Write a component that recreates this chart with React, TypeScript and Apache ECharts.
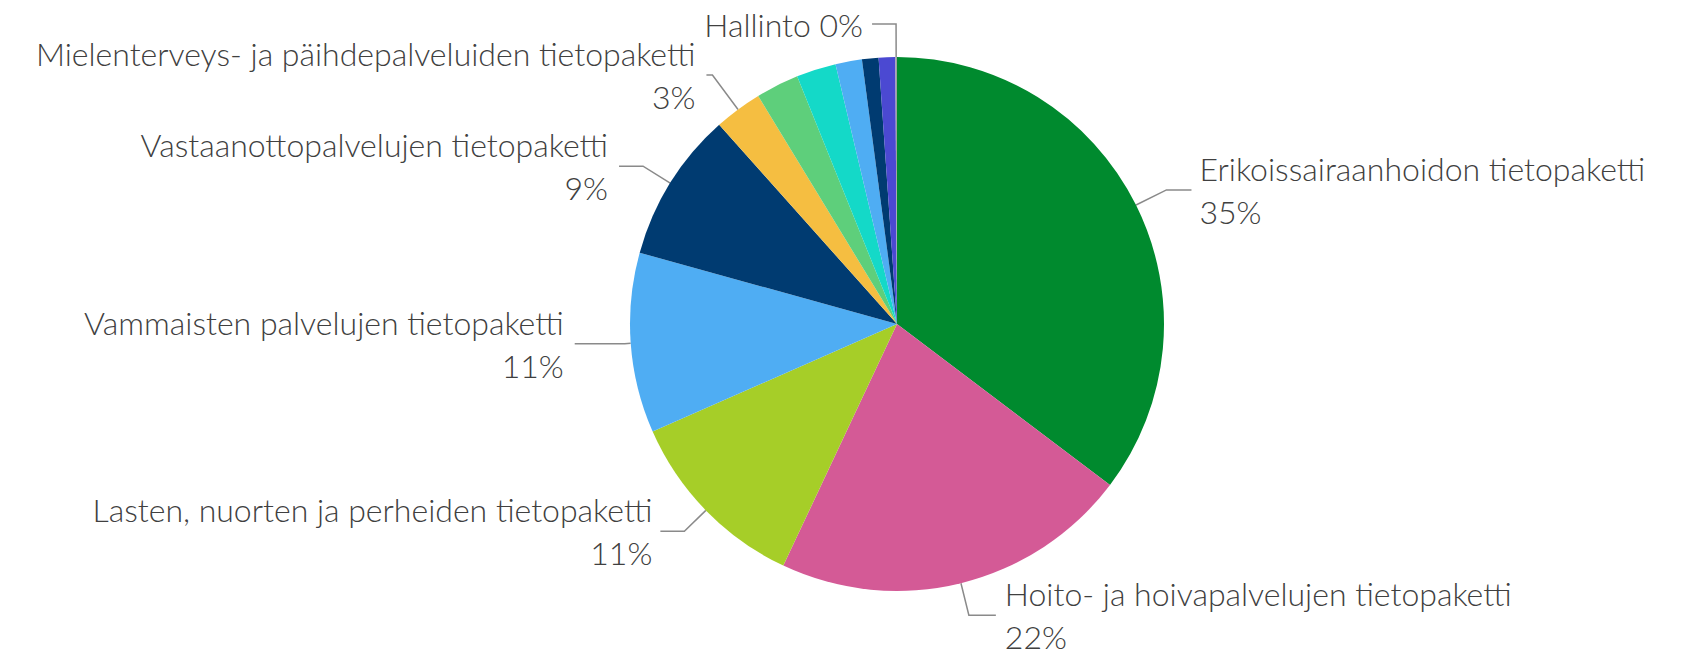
import React, { useEffect, useRef } from "react";
import * as echarts from "echarts";

// Categories (clockwise from 12 o'clock)
const categories = [
  "Erikoissairaanhoidon tietopaketti",
  "Hoito- ja hoivapalvelujen tietopaketti",
  "Lasten, nuorten ja perheiden tietopaketti",
  "Vammaisten palvelujen tietopaketti",
  "Vastaanottopalvelujen tietopaketti",
  "Mielenterveys- ja päihdepalveluiden tietopaketti",
  "Muu tietopaketti 1",
  "Muu tietopaketti 2",
  "Muu tietopaketti 3",
  "Muu tietopaketti 4",
  "Muu tietopaketti 5",
  "Hallinto",
];

// Shares (%)
const shares = [35.3, 21.7, 11.4, 10.9, 9.1, 2.9, 2.6, 2.4, 1.6, 1.0, 1.0, 0.1];

// Which slices carry a label in the reference
const labelled = [true, true, true, true, true, true, false, false, false, false, false, true];
const singleLineLabel = ["Hallinto"];

// Styling (kept separate from the data)
const colors = [
  "#008A2E",
  "#D45A96",
  "#A6CE28",
  "#4FADF3",
  "#003B71",
  "#F5BE41",
  "#5ECF7B",
  "#14D9C8",
  "#4FADF3",
  "#003B71",
  "#4B49D2",
  "#A0A0A0",
];
const lineLen = [34, 33, 30, 6, 32, 43, 0, 0, 0, 0, 0, 33];
const lineLen2 = [25, 27, 24, 50, 24, 6, 0, 0, 0, 0, 0, 24];
const labelGap = [8, 9, 8, 11, 11, 11, 0, 0, 0, 0, 0, 9];

export default function App() {
  const ref = useRef<HTMLDivElement>(null);

  useEffect(() => {
    document.body.style.margin = "0";
    if (!ref.current) return;
    const chart = echarts.init(ref.current, undefined, { renderer: "svg" });

    const data = categories.map((name, i) => ({
      name,
      value: shares[i],
      itemStyle: { color: colors[i] },
      label: labelled[i]
        ? { show: true, distanceToLabelLine: labelGap[i] }
        : { show: false },
      labelLine: labelled[i]
        ? { show: true, length: lineLen[i], length2: lineLen2[i] }
        : { show: false },
    }));

    chart.setOption({
      animation: false,
      backgroundColor: "#ffffff",
      series: [
        {
          type: "pie",
          center: [897, 324],
          radius: [0, 267],
          startAngle: 90,
          clockwise: true,
          avoidLabelOverlap: false,
          percentPrecision: 2,
          itemStyle: { borderWidth: 0 },
          emphasis: { disabled: true },
          label: {
            position: "outside",
            color: "#404040",
            fontFamily: "Lato, 'Open Sans', sans-serif",
            fontWeight: 300,
            fontSize: 32,
            lineHeight: 43,
            formatter: (p: any) => {
              const pct = Math.round(p.percent);
              return singleLineLabel.includes(p.name)
                ? `${p.name} ${pct}%`
                : `${p.name}\n${pct}%`;
            },
          },
          labelLine: {
            smooth: false,
            lineStyle: { color: "#8A8A8A", width: 1.5 },
          },
          data,
        },
      ],
    });

    return () => chart.dispose();
  }, []);

  return <div ref={ref} style={{ width: 1689, height: 656 }} />;
}
